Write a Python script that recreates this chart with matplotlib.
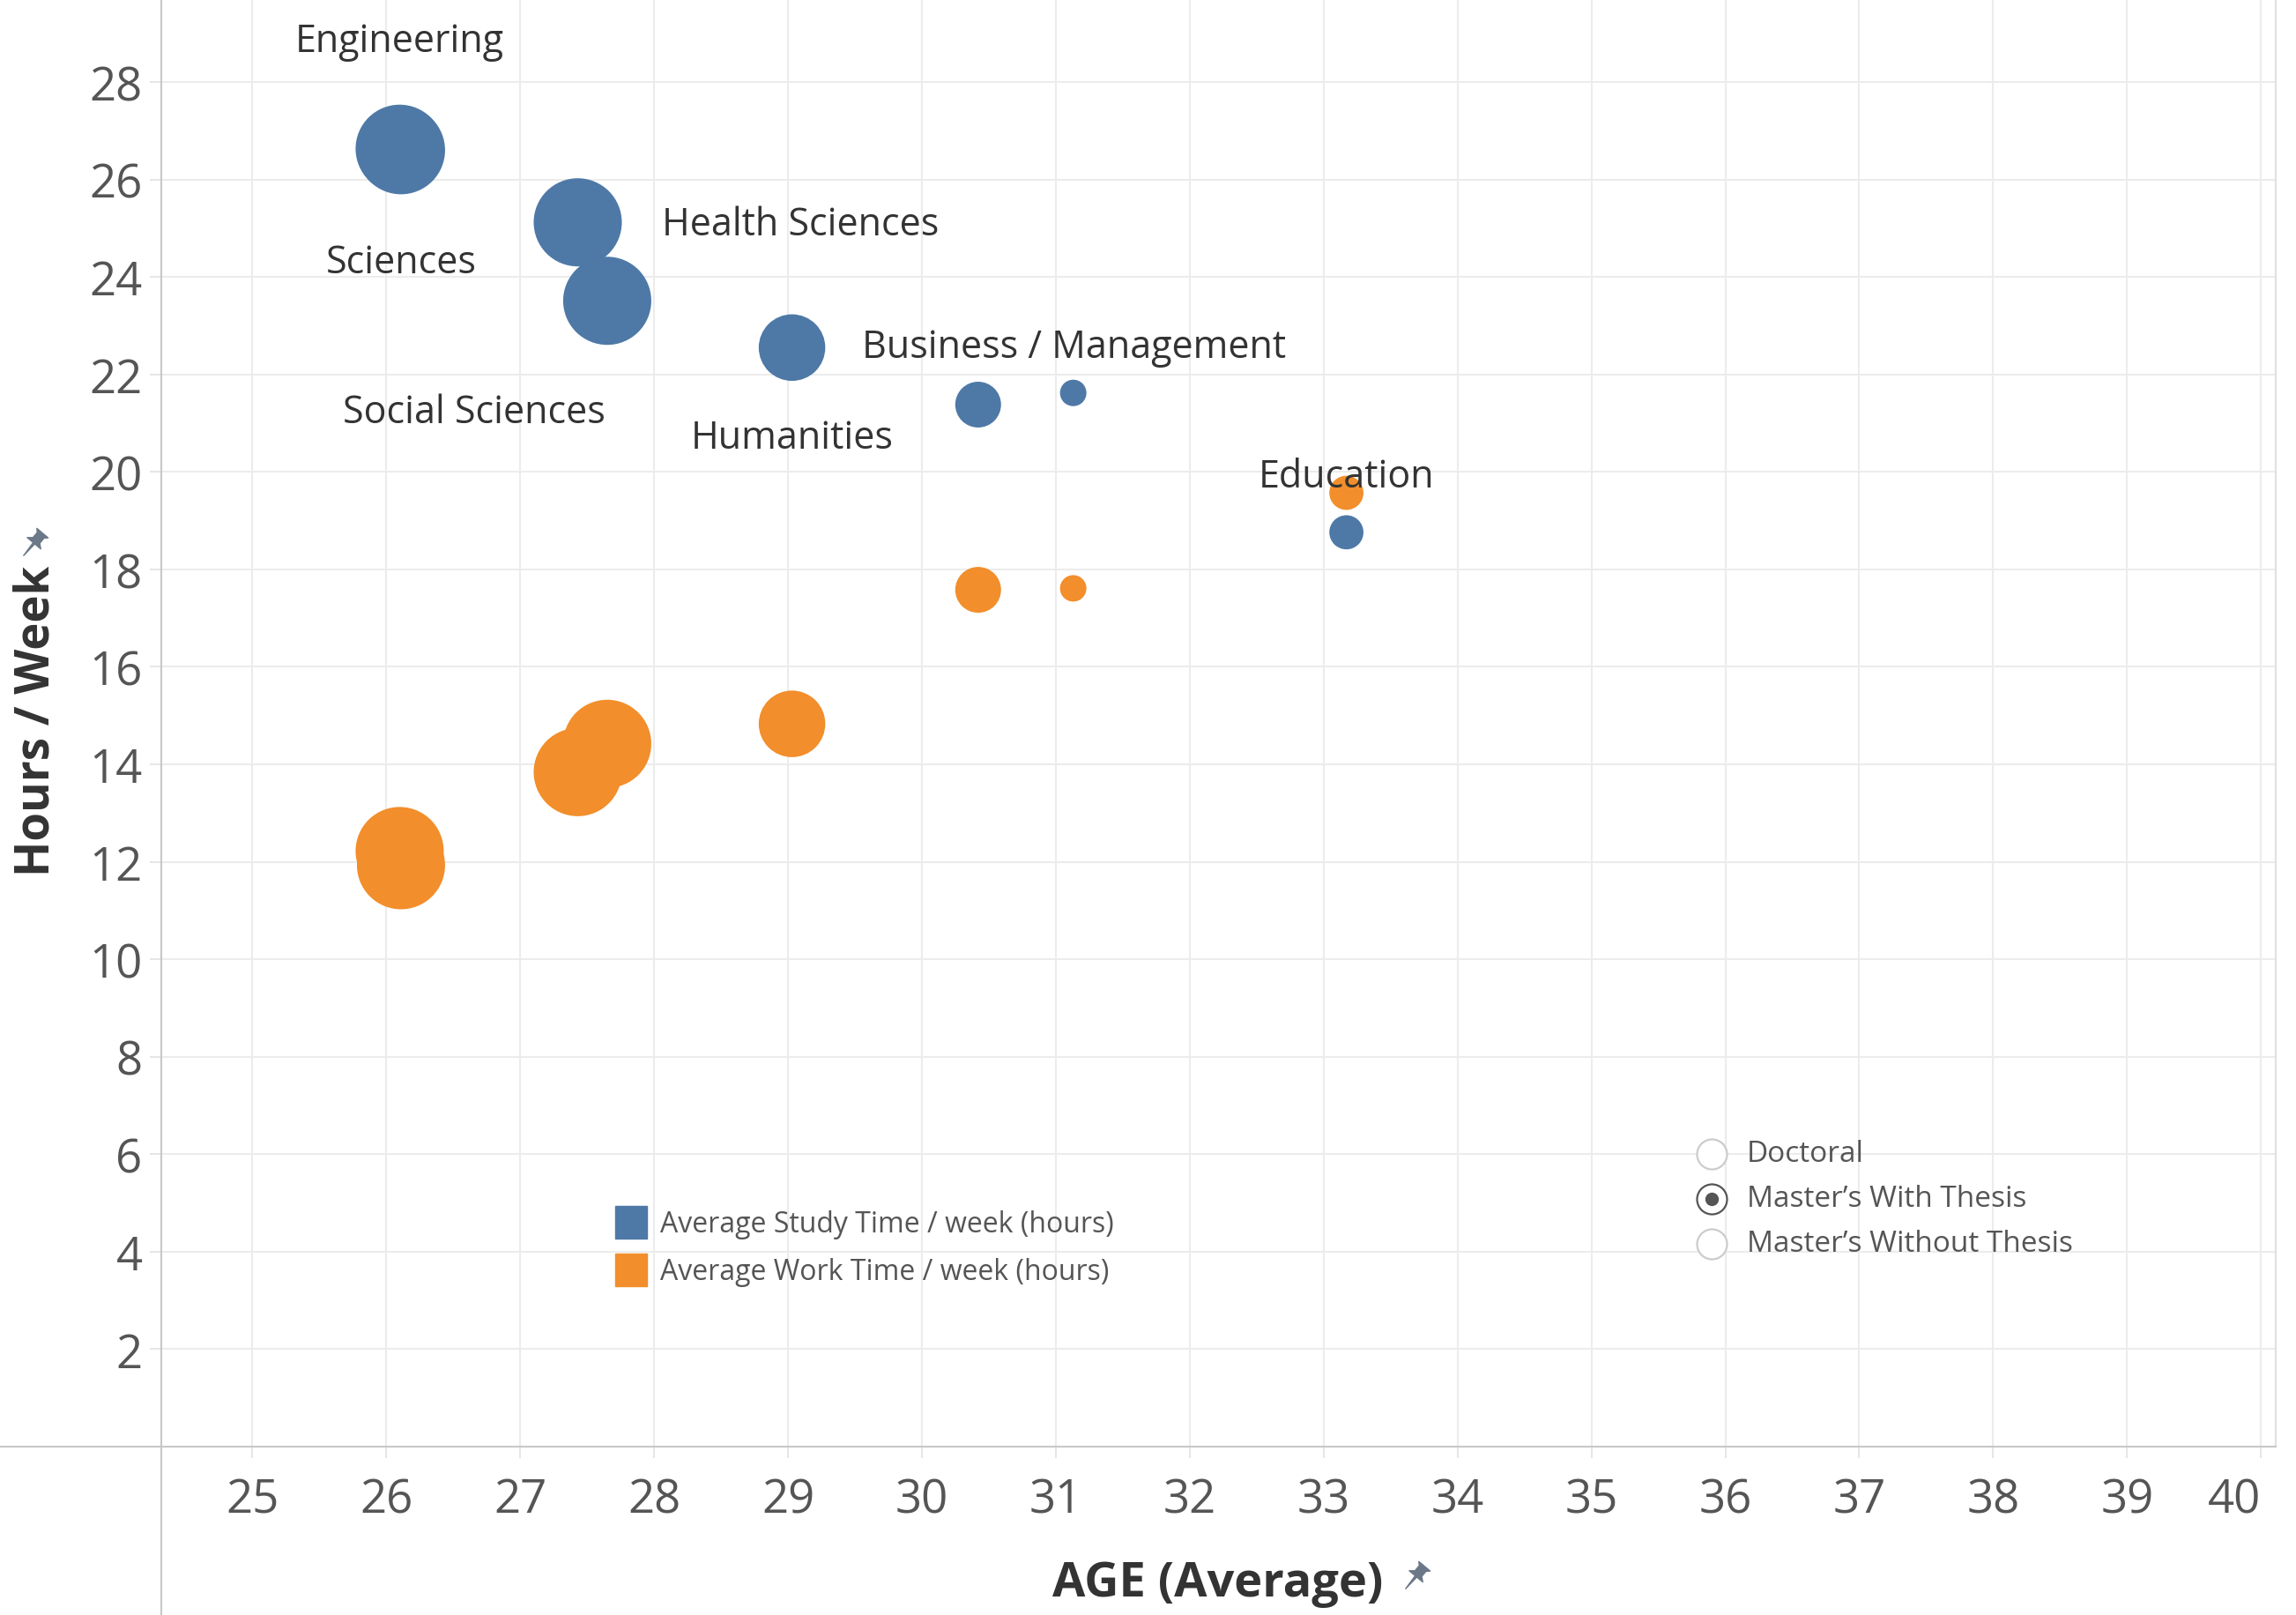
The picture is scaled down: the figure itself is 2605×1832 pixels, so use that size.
import numpy as np
import matplotlib.pyplot as plt
from matplotlib.path import Path
from matplotlib.markers import MarkerStyle
from matplotlib.transforms import Affine2D
from matplotlib.lines import Line2D
from matplotlib.patches import Rectangle

plt.rcParams['font.family'] = ['Open Sans', 'DejaVu Sans']

# Data
fields = ["Engineering", "Sciences", "Health Sciences", "Social Sciences",
          "Humanities", "", "Business / Management", "Education"]
age = [26.10, 26.11, 27.43, 27.65, 29.03, 30.42, 31.13, 33.17]
study_hours = [26.63, 26.60, 25.12, 23.51, 22.55, 21.38, 21.62, 18.76]
work_hours = [12.22, 11.93, 13.84, 14.42, 14.83, 17.58, 17.61, 19.57]
respondents = [100, 100, 100, 100, 57, 27, 9, 15]

x_ticks = list(range(25, 41))
y_ticks = list(range(2, 29, 2))
legend_labels = ["Average Study Time / week (hours)", "Average Work Time / week (hours)"]
degree_options = ["Doctoral", "Master\u2019s With Thesis", "Master\u2019s Without Thesis"]
selected_degree = "Master\u2019s With Thesis"

# label offsets (points) relative to each field's study-time bubble
label_offsets = {
    "Engineering": (0, 80, 'center'),
    "Sciences": (0, -100, 'center'),
    "Health Sciences": (69, -10, 'left'),
    "Social Sciences": (-109, -99, 'center'),
    "Humanities": (0, -82, 'center'),
    "Business / Management": (1, 29.5, 'center'),
    "Education": (0, 37, 'center'),
}

BLUE = '#4e79a7'
ORANGE = '#f28e2b'
AXIS = '#c8c8c8'
W, H = 2605, 1833


def fx(px):
    return px / W


def fy(py):
    return 1 - py / H


fig = plt.figure(figsize=(W / 100, H / 100), dpi=100)
ax = fig.add_axes([fx(183), fy(1642), fx(2582) - fx(183), fy(0) - fy(1642)])
ax.set_xlim(24.32, 40.11)
ax.set_ylim(0, 29.70)

sizes = np.array(respondents) * 51.84
ax.scatter(age, study_hours, s=sizes, color=BLUE, linewidths=0, zorder=3)
ax.scatter(age, work_hours, s=sizes, color=ORANGE, linewidths=0, zorder=3)

for name, x, y in zip(fields, age, study_hours):
    if name in label_offsets:
        dx, dy, ha = label_offsets[name]
        ax.annotate(name, (x, y), xytext=(dx, dy), textcoords='offset points',
                    ha=ha, va='baseline', fontsize=31, color='#333333', zorder=5)

ax.set_xticks(x_ticks)
ax.set_yticks(y_ticks)
ax.grid(True, color='#ececec', linewidth=1.5)
ax.set_axisbelow(True)
ax.tick_params(axis='both', length=9.4, width=1.4, color='#e6e6e6',
               labelcolor='#555555', labelsize=38)
ax.tick_params(axis='x', pad=15)
ax.tick_params(axis='y', pad=6)
ax.get_xticklabels()[-1].set_ha('right')  # last label kept inside the edge
for side in ['left', 'bottom']:
    ax.spines[side].set_color(AXIS)
    ax.spines[side].set_linewidth(1.5)
ax.spines['top'].set_visible(False)
ax.spines['right'].set_color('#e0e0e0')
ax.spines['right'].set_linewidth(1.5)

# axis lines running past the plot corner
fig.add_artist(Line2D([fx(183), fx(183)], [fy(1642), 0], transform=fig.transFigure,
                      color=AXIS, lw=1.5))
fig.add_artist(Line2D([0, fx(183)], [fy(1642), fy(1642)], transform=fig.transFigure,
                      color=AXIS, lw=1.5))

# axis titles
fig.text(fx(42), fy(818), "Hours / Week", rotation=90, ha='center', va='center',
         fontsize=38, fontweight='bold', color='#333333')
fig.text(fx(1382), fy(1797), "AGE (Average)", ha='center', va='center',
         fontsize=39, fontweight='bold', color='#333333')

# pin icons
pin = Path([(-0.5, 1.0), (0.5, 1.0), (0.3, 0.8), (0.3, 0.35), (0.6, 0.1), (0.07, 0.1),
            (0.0, -1.0), (-0.07, 0.1), (-0.6, 0.1), (-0.3, 0.35), (-0.3, 0.8), (-0.5, 1.0)],
           closed=True)
pin_marker = MarkerStyle(pin, transform=Affine2D().rotate_deg(-40))
for px, py in [(1605, 1790), (37, 618)]:
    fig.add_artist(Line2D([fx(px)], [fy(py)], transform=fig.transFigure, marker=pin_marker,
                          markersize=24, color='#6b7888', linestyle='none'))

# colour legend
for i, (lab, col) in enumerate(zip(legend_labels, [BLUE, ORANGE])):
    top = 1369 + i * 54
    fig.add_artist(Rectangle((fx(698), fy(top + 37)), 36 / W, 37 / H,
                             transform=fig.transFigure, color=col))
    fig.text(fx(749), fy(top + 20), lab, ha='left', va='center', fontsize=23, color='#555555')

# degree filter (radio list)
for i, opt in enumerate(degree_options):
    cy = 1310 + i * 51
    on = opt == selected_degree
    fig.add_artist(Line2D([fx(1942)], [fy(cy)], transform=fig.transFigure, marker='o',
                          markersize=24.5, mfc='white', mec='#555555' if on else '#cccccc',
                          mew=1.6, linestyle='none'))
    if on:
        fig.add_artist(Line2D([fx(1942)], [fy(cy)], transform=fig.transFigure, marker='o',
                              markersize=10, mfc='#555555', mec='#555555', linestyle='none'))
    fig.text(fx(1982), fy(cy), opt, ha='left', va='center', fontsize=24, color='#555555')

fig.savefig('out.png', dpi=100, facecolor='white')
